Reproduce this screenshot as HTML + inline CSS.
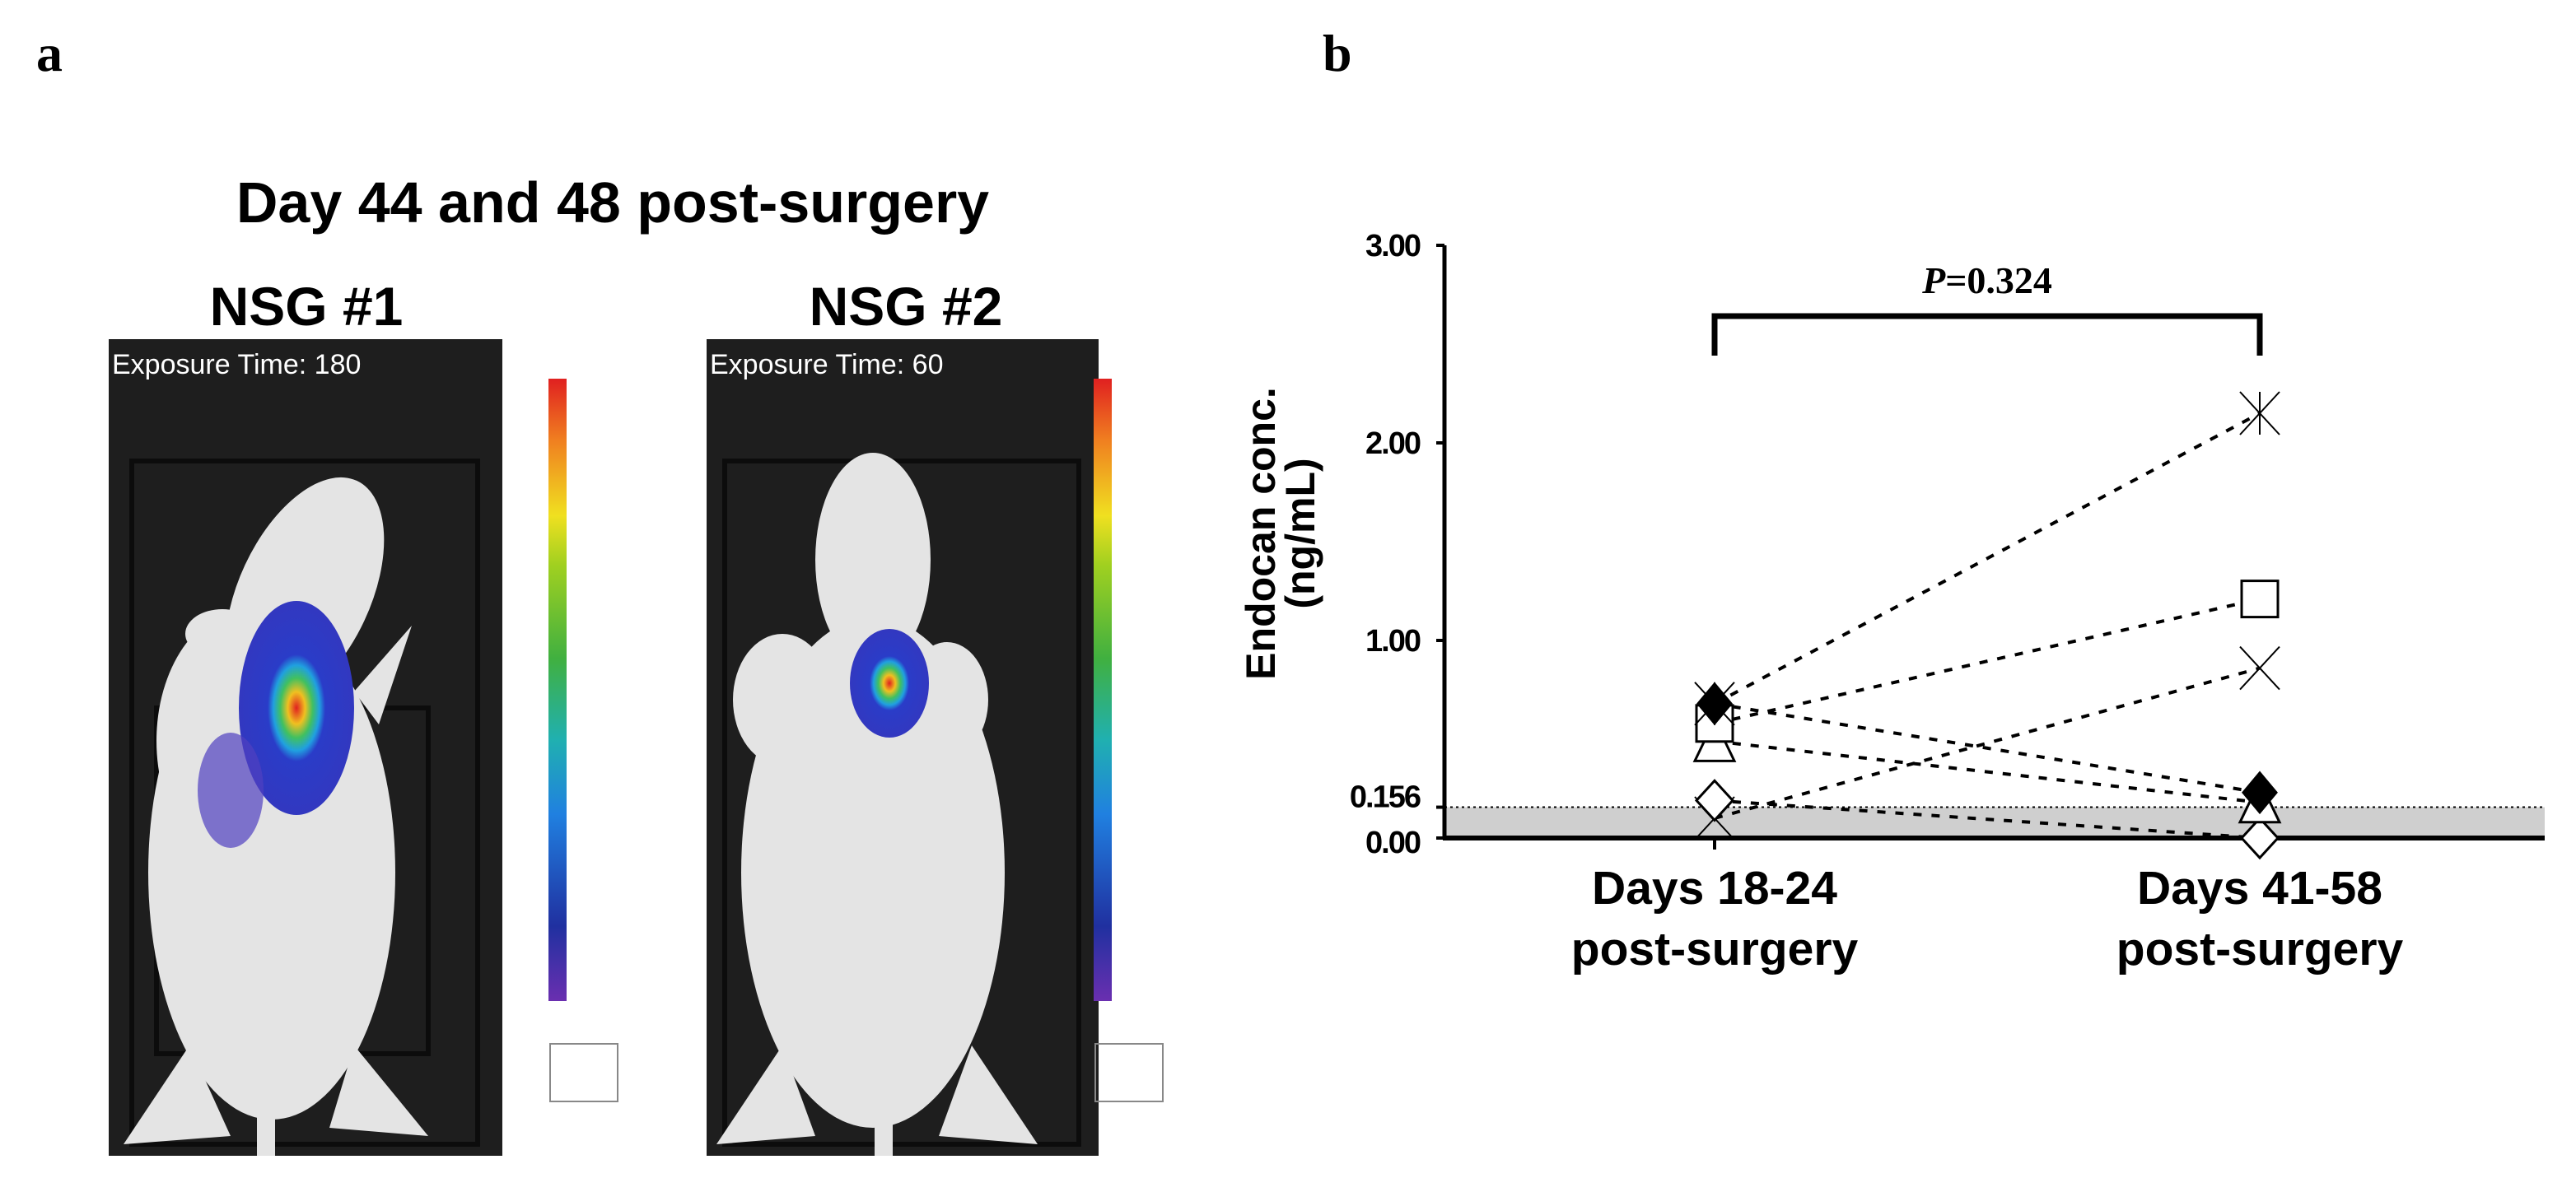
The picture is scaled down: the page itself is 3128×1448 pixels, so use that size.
<!DOCTYPE html>
<html><head><meta charset="utf-8"><style>
html,body{margin:0;padding:0;background:#fff;}
body{width:3128px;height:1448px;overflow:hidden;position:relative;font-family:"Liberation Sans",sans-serif;}
.abs{position:absolute;}
</style></head><body>
<div class="abs" style="left:44px;top:28px;font:bold 64px 'Liberation Serif',serif;">a</div>
<div class="abs" style="left:1606px;top:28px;font:bold 64px 'Liberation Serif',serif;">b</div>
<div class="abs" style="left:144px;width:1200px;top:206px;text-align:center;font:bold 70px 'Liberation Sans',sans-serif;">Day 44 and 48 post-surgery</div>
<div class="abs" style="left:172px;width:400px;top:334px;text-align:center;font:bold 66px 'Liberation Sans',sans-serif;">NSG #1</div>
<div class="abs" style="left:900px;width:400px;top:334px;text-align:center;font:bold 66px 'Liberation Sans',sans-serif;">NSG #2</div>

<svg class="abs" style="left:0;top:0" width="1500" height="1448">
<defs>
<linearGradient id="cb" x1="0" y1="1" x2="0" y2="0">
<stop offset="0" stop-color="#6a2fb0"/><stop offset="0.12" stop-color="#2030a0"/><stop offset="0.3" stop-color="#2080e0"/><stop offset="0.42" stop-color="#20b0b0"/><stop offset="0.55" stop-color="#40b040"/><stop offset="0.7" stop-color="#a0d020"/><stop offset="0.78" stop-color="#f0e020"/><stop offset="0.9" stop-color="#f08020"/><stop offset="1" stop-color="#e02020"/>
</linearGradient>
<radialGradient id="blob"><stop offset="0" stop-color="#e02020"/><stop offset="0.15" stop-color="#f0c020"/><stop offset="0.28" stop-color="#40c060"/><stop offset="0.4" stop-color="#20a0e0"/><stop offset="0.5" stop-color="#2a3cc8"/><stop offset="1" stop-color="#3238c0"/></radialGradient>
</defs>
<g>
<rect x="132" y="412" width="478" height="992" fill="#1e1e1e"/>
<rect x="160" y="560" width="420" height="830" fill="none" stroke="#0c0c0c" stroke-width="6"/>
<rect x="190" y="860" width="330" height="420" fill="none" stroke="#0c0c0c" stroke-width="6"/>
<g fill="#e4e4e4">
<ellipse cx="370" cy="720" rx="80" ry="150" transform="rotate(25 370 720)"/>
<ellipse cx="330" cy="1060" rx="150" ry="300"/>
<ellipse cx="300" cy="900" rx="110" ry="160"/>
<ellipse cx="270" cy="770" rx="45" ry="30"/>
<path d="M430 840 L500 760 L460 880Z"/>
<path d="M230 1270 L150 1390 L280 1380Z"/><path d="M430 1270 L520 1380 L400 1370Z"/>
<rect x="312" y="1300" width="22" height="104"/>
</g>
<ellipse cx="360" cy="860" rx="70" ry="130" fill="url(#blob)"/>
<ellipse cx="280" cy="960" rx="40" ry="70" fill="#5040c0" opacity="0.7"/>
<text x="136" y="454" fill="#fff" font-size="34" font-family="Liberation Sans">Exposure Time: 180</text>
</g>
<rect x="666" y="460" width="22" height="756" fill="url(#cb)"/>
<rect x="668" y="1268" width="82" height="70" fill="none" stroke="#888" stroke-width="2"/>
<g>
<rect x="858" y="412" width="476" height="992" fill="#1e1e1e"/>
<rect x="880" y="560" width="430" height="830" fill="none" stroke="#0c0c0c" stroke-width="6"/>
<g fill="#e4e4e4">
<ellipse cx="1060" cy="680" rx="70" ry="130"/>
<ellipse cx="1060" cy="1060" rx="160" ry="310"/>
<ellipse cx="950" cy="850" rx="60" ry="80"/><ellipse cx="1150" cy="850" rx="50" ry="70"/>
<path d="M950 1270 L870 1390 L990 1380Z"/><path d="M1180 1270 L1260 1390 L1140 1380Z"/>
<rect x="1062" y="1300" width="22" height="104"/>
</g>
<ellipse cx="1080" cy="830" rx="48" ry="66" fill="url(#blob)"/>
<text x="862" y="454" fill="#fff" font-size="34" font-family="Liberation Sans">Exposure Time: 60</text>
</g>
<rect x="1328" y="460" width="22" height="756" fill="url(#cb)"/>
<rect x="1330" y="1268" width="82" height="70" fill="none" stroke="#888" stroke-width="2"/>
</svg>

<div class="abs" style="left:1355px;top:600px;width:400px;text-align:center;transform:rotate(-90deg);font:bold 50px 'Liberation Sans',sans-serif;line-height:48px;">Endocan conc.<br>(ng/mL)</div>

<svg id="chart" class="abs" style="left:0;top:0" width="3128" height="1448"></svg>
<script>
const tickValues=[0,0.156,1,2,3];
const tickLabels=["0.00","0.156","1.00","2.00","3.00"];
const categories=["Days 18-24|post-surgery","Days 41-58|post-surgery"];
const markers=["asterisk","square","cross","filledDiamond","triangle","openDiamond"];
const before=[0.68,0.58,0.10,0.68,0.49,0.19];
const after=[2.15,1.21,0.86,0.23,0.18,0.0];
const pValueLabel="0.324";

const NS="http://www.w3.org/2000/svg";
const svg=document.getElementById('chart');
const y=v=>1018-v*240;
const x=i=>2082+i*662;
function mk(tag,attrs,parent){const e=document.createElementNS(NS,tag);for(const k in attrs)e.setAttribute(k,attrs[k]);(parent||svg).appendChild(e);return e;}
let band=mk('rect',{x:1754,y:y(0.156),width:1336,height:y(0)-y(0.156),fill:'#cfcfcf'});


let dl=mk('line',{x1:1754,x2:3090,y1:y(0.156),y2:y(0.156),stroke:'#000','stroke-width':2,'stroke-dasharray':'3 4'});


let ya=mk('line',{x1:1754,x2:1754,y1:y(3),y2:y(0)+2,stroke:'#000','stroke-width':5});


let xa=mk('line',{x1:1752,x2:3090,y1:y(0),y2:y(0),stroke:'#000','stroke-width':6});


tickValues.forEach((v,i)=>{
  mk('line',{x1:1744,x2:1754,y1:y(v),y2:y(v),stroke:'#000','stroke-width':4});
  const t=mk('text',{x:1724,y:y(v)+(v===0?18:v<0.2?0:13),'text-anchor':'end','font-size':38,'font-weight':'bold','font-family':'Liberation Sans','letter-spacing':'-2'});
  t.textContent=tickLabels[i];
  
  
});
categories.forEach((c,i)=>{
  mk('line',{x1:x(i),x2:x(i),y1:y(0),y2:y(0)+14,stroke:'#000','stroke-width':4});
  c.split('|').forEach((s,j)=>{
    const t=mk('text',{x:x(i),y:1098+j*74,'text-anchor':'middle','font-size':57,'font-weight':'bold','font-family':'Liberation Sans'});
    t.textContent=s;
    
    
  });
});
let br=mk('path',{d:`M${x(0)} 432 V384 H${x(1)} V432`,fill:'none',stroke:'#000','stroke-width':7});


const pt=mk('text',{x:(x(0)+x(1))/2,y:356,'text-anchor':'middle','font-size':46,'font-family':'Liberation Serif','font-weight':'bold'});
pt.innerHTML='<tspan font-style="italic">P</tspan>='+pValueLabel;


before.forEach((b,i)=>{
  const l=mk('line',{x1:x(0),y1:y(b),x2:x(1),y2:y(after[i]),stroke:'#000','stroke-width':4,'stroke-dasharray':'10 12'});
  
  
});
function drawMarker(type,cx,cy){
  const g=mk('g',{});
  const s=22;
  if(type==='square')mk('rect',{x:cx-s,y:cy-s,width:2*s,height:2*s,fill:'#fff',stroke:'#000','stroke-width':3},g);
  else if(type==='triangle')mk('polygon',{points:`${cx},${cy-26} ${cx+24},${cy+24} ${cx-24},${cy+24}`,fill:'#fff',stroke:'#000','stroke-width':3},g);
  else if(type==='filledDiamond')mk('polygon',{points:`${cx},${cy-24} ${cx+20},${cy} ${cx},${cy+24} ${cx-20},${cy}`,fill:'#000',stroke:'#000','stroke-width':3},g);
  else if(type==='openDiamond')mk('polygon',{points:`${cx},${cy-24} ${cx+22},${cy} ${cx},${cy+24} ${cx-22},${cy}`,fill:'#fff',stroke:'#000','stroke-width':3},g);
  else{
    mk('path',{d:`M${cx-24} ${cy-26} L${cx+24} ${cy+26} M${cx+24} ${cy-26} L${cx-24} ${cy+26}`,stroke:'#000','stroke-width':2},g);
    if(type==='asterisk')mk('path',{d:`M${cx} ${cy-26} V${cy+26}`,stroke:'#000','stroke-width':2},g);
  }
  return g;
}
const order=[2,5,4,1,0,3];
order.forEach(i=>{
  [0,1].forEach(k=>{
    const g=drawMarker(markers[i],x(k),y(k?after[i]:before[i]));
    
    
  });
});
</script>
</body></html>
